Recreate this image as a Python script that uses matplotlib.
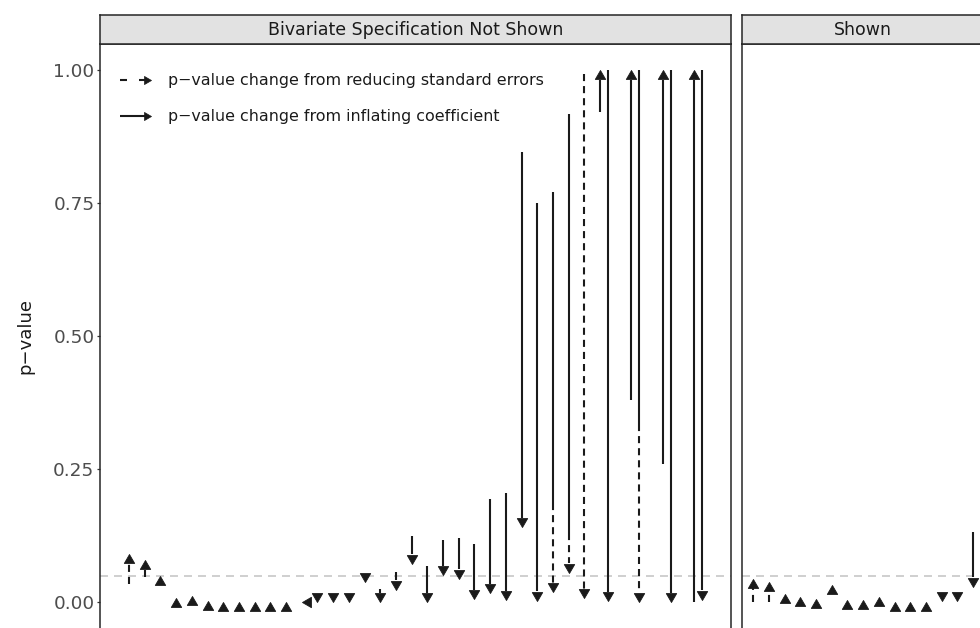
import numpy as np
import matplotlib.pyplot as plt
from matplotlib.path import Path
from matplotlib.lines import Line2D

# left facet: p-value of each model before / after, and where the stem
# switches from solid (inflating coefficient) to dashed (reducing std. errors)
left_x = [1, 2, 3, 4, 5, 6, 7, 8, 9, 10,
          11, 12, 13, 14, 15, 16, 17, 18, 19, 20,
          21, 22, 23, 24, 25, 26, 27, 28, 29, 30,
          31, 31.5, 33, 33.5, 35, 35.5, 37, 37.5]
left_from = [0.035, 0.048, 0.035, 0.000, 0.005, 0.000, 0.000, 0.000, 0.000, 0.000,
             0.000, 0.000, 0.006, 0.006, 0.006, 0.052, 0.026, 0.058, 0.124, 0.068,
             0.118, 0.121, 0.109, 0.195, 0.205, 0.846, 0.750, 0.771, 0.917, 0.992,
             0.921, 1.000, 0.380, 1.000, 0.260, 1.000, 0.000, 1.000]
left_to = [0.092, 0.079, 0.049, 0.008, 0.013, 0.003, 0.001, 0.001, 0.001, 0.001,
           0.001, 0.000, 0.000, 0.000, 0.000, 0.038, 0.000, 0.024, 0.073, 0.000,
           0.051, 0.045, 0.006, 0.017, 0.004, 0.141, 0.003, 0.019, 0.056, 0.008,
           1.000, 0.002, 1.000, 0.000, 1.000, 0.000, 1.000, 0.005]
left_split = [0.035, 0.079, 0.049, 0.008, 0.013, 0.003, 0.001, 0.001, 0.001, 0.001,
              0.001, 0.000, 0.000, 0.000, 0.000, 0.038, 0.000, 0.024, 0.073, 0.000,
              0.051, 0.045, 0.006, 0.017, 0.004, 0.141, 0.003, 0.186, 0.130, 0.992,
              1.000, 0.002, 1.000, 0.336, 1.000, 0.000, 1.000, 0.005]

# right facet
right_x = list(range(1, 16))
right_from = [0.000, 0.000, 0.005, 0.000, 0.000, 0.020, 0.000, 0.000,
              0.000, 0.000, 0.000, 0.000, 0.015, 0.020, 0.132]
right_to = [0.045, 0.038, 0.015, 0.010, 0.007, 0.032, 0.004, 0.004,
            0.010, 0.001, 0.001, 0.001, 0.002, 0.002, 0.030]
right_split = [0.000, 0.000, 0.015, 0.010, 0.007, 0.032, 0.004, 0.004,
               0.010, 0.001, 0.001, 0.001, 0.002, 0.002, 0.030]

facet_titles = ['Bivariate Specification Not Shown', 'Shown']
legend_labels = ['p\u2212value change from reducing standard errors',
                 'p\u2212value change from inflating coefficient']
cutoff = 0.05

W, H, DPI = 980, 628, 100
INK = '#1a1a1a'
LW = 1.5
DASH = (3.4, 2.4)
HEAD_PX = 9.5


def px2pt(v):
    return v * 72.0 / DPI


# arrowheads with the tip at the marker origin
head_up = Path([(0, 0), (-0.58, -1), (0.58, -1), (0, 0)], closed=True)
head_down = Path([(0, 0), (-0.58, 1), (0.58, 1), (0, 0)], closed=True)
head_left = Path([(0, 0), (1, -0.58), (1, 0.58), (0, 0)], closed=True)
head_right = Path([(0, 0), (-1, -0.58), (-1, 0.58), (0, 0)], closed=True)
HEAD_MS = 2 * px2pt(HEAD_PX) - 0.8

fig = plt.figure(figsize=(W / DPI, H / DPI), dpi=DPI)
fig.patch.set_facecolor('white')

ylo, yhi = -0.05, 1.05
strip_top, panel_top, panel_bot = 15, 43.5, 629.1


def fx(v):
    return v / W


def fy(v):
    return 1 - v / H


def make_panel(x0, x1, xlim, title):
    ax = fig.add_axes([fx(x0), fy(panel_bot), fx(x1 - x0),
                       (panel_bot - panel_top) / H])
    ax.set_xlim(*xlim)
    ax.set_ylim(ylo, yhi)
    ax.set_xticks([])
    for s in ax.spines.values():
        s.set_color('#262626')
        s.set_linewidth(1.1)
    strip = fig.add_axes([fx(x0), fy(panel_top), fx(x1 - x0),
                          (panel_top - strip_top) / H])
    strip.set_facecolor('#e2e2e2')
    strip.set_xticks([])
    strip.set_yticks([])
    for s in strip.spines.values():
        s.set_color('#262626')
        s.set_linewidth(1.1)
    strip.text(0.5, 0.48, title, transform=strip.transAxes, ha='center',
               va='center', fontsize=12.5, color='#1a1a1a')
    ax.axhline(cutoff, color='#cfcfcf', lw=1.4, dashes=(4.1, 3.1), zorder=1)
    return ax


def draw_arrows(ax, xs, p_from, p_to, p_split):
    head = HEAD_PX / (panel_bot - panel_top) * (yhi - ylo)
    for x, a, b, s in zip(xs, p_from, p_to, p_split):
        d = np.sign(b - a)
        if d == 0:
            ax.plot(x, b, marker=head_left, ms=HEAD_MS, color=INK, mew=0.6,
                    zorder=3)
            continue
        stem_end = b - d * head
        if (stem_end - a) * d > 0:
            s_c = min(max(s, min(a, stem_end)), max(a, stem_end))
            if s_c != a:
                ax.plot([x, x], [a, s_c], color=INK, lw=LW,
                        solid_capstyle='butt', zorder=2)
            if s_c != stem_end:
                ax.plot([x, x], [s_c, stem_end], color=INK, lw=LW,
                        dashes=DASH, dash_capstyle='butt', zorder=2)
        mk = head_up if d > 0 else head_down
        ax.plot(x, b, marker=mk, ms=HEAD_MS, color=INK, mew=0.6, zorder=3)


n_left = max(left_x) - min(left_x)
ax_l = make_panel(100.4, 730.7,
                  (min(left_x) - 0.05 * n_left, max(left_x) + 0.05 * n_left),
                  facet_titles[0])
n_right = max(right_x) - min(right_x)
ax_r = make_panel(742.2, 984.0,
                  (min(right_x) - 0.05 * n_right, max(right_x) + 0.05 * n_right),
                  facet_titles[1])

draw_arrows(ax_l, left_x, left_from, left_to, left_split)
draw_arrows(ax_r, right_x, right_from, right_to, right_split)

ax_l.set_yticks([0, 0.25, 0.5, 0.75, 1.0])
ax_l.set_yticklabels(['0.00', '0.25', '0.50', '0.75', '1.00'])
ax_l.tick_params(axis='y', length=px2pt(3.5), width=0.9, color='#333333',
                 labelsize=13.3, labelcolor='#4d4d4d', pad=1.8)
ax_r.set_yticks([])

fig.text(fx(25), fy(336), 'p\u2212value', rotation=90, ha='center',
         va='center', fontsize=13, color='#1a1a1a')

# legend drawn inside the left panel
for row, (label, dashed) in enumerate(zip(legend_labels, [True, False])):
    yy = fy(80 + row * 36)
    kw = dict(dashes=(7 * 72 / DPI / LW, 12 * 72 / DPI / LW)) if dashed else {}
    fig.add_artist(Line2D([fx(120), fx(146)], [yy, yy], color=INK, lw=LW,
                          solid_capstyle='butt', dash_capstyle='butt', **kw))
    fig.add_artist(Line2D([fx(151)], [yy], marker=head_right,
                          ms=2 * px2pt(7), color=INK, mew=0.5))
    fig.text(fx(168), yy, label, ha='left', va='center', fontsize=11.4,
             color='#1a1a1a')

fig.savefig('out.png', dpi=DPI)
